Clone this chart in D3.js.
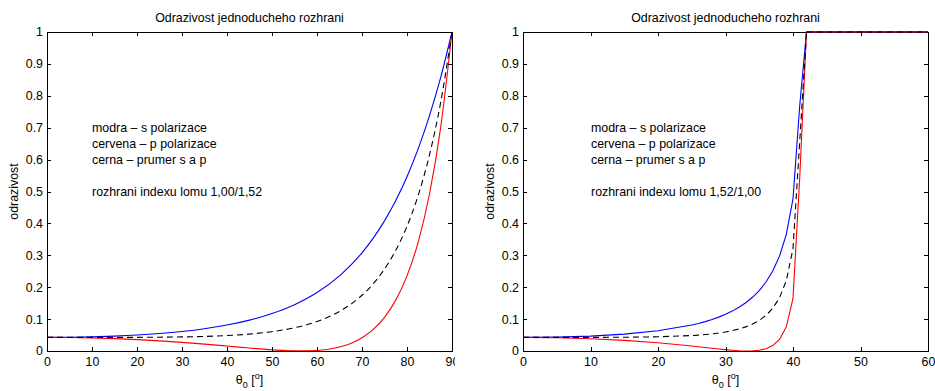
<!DOCTYPE html>
<html><head><meta charset="utf-8">
<script src="https://cdn.jsdelivr.net/npm/d3@7"></script>
<style>body{margin:0;background:#fff}svg text{font-family:"Liberation Sans",Arial,Helvetica,sans-serif}</style>
</head><body><svg id="c" width="935" height="391"></svg>
<script>
// Left panel: interface 1,00/1,52
const anglesA = [0,5,10,15,20,25,30,35,40,45,50,55,60,65,67.5,70,72.5,75,77.5,80,82.5,85,87.5,90];
const rsA  = [0.04258,0.043011,0.044322,0.046604,0.050008,0.05476,0.061208,0.069841,0.081353,0.096732,0.117395,0.145345,0.183437,0.23572,0.268886,0.307891,0.353799,0.40785,0.471485,0.546358,0.634377,0.737663,0.858662,1];
const rpA  = [0.04258,0.042207,0.040869,0.038721,0.0357,0.031811,0.027079,0.021591,0.01555,0.009357,0.00379,0.000296,0.001527,0.012321,0.023836,0.041535,0.067725,0.105578,0.15948,0.235534,0.34235,0.492164,0.702718,1];
const avgA = [0.04258,0.042609,0.042596,0.042663,0.042854,0.043286,0.044144,0.045716,0.048452,0.053045,0.060593,0.072821,0.092482,0.124021,0.146361,0.174713,0.210762,0.256714,0.315483,0.390946,0.488364,0.614914,0.78069,1];
// Right panel: interface 1,52/1,00
const anglesB = [0,5,10,15,20,25,26,27,28,29,30,31,32,33,34,35,36,37,38,39,40,41,42,60];
const rsB  = [0.04258,0.043581,0.046779,0.052841,0.063256,0.08127,0.086332,0.09208,0.098638,0.106167,0.114875,0.125025,0.136975,0.151209,0.168402,0.189541,0.216126,0.250594,0.29727,0.364974,0.476977,0.770515,1,1];
const rpB  = [0.04258,0.04159,0.038562,0.033337,0.025694,0.015589,0.013328,0.011027,0.008721,0.00646,0.00432,0.002414,0.00091,0.000068,0.000301,0.00228,0.007161,0.017066,0.036289,0.074941,0.164597,0.545501,1,1];
const avgB = [0.04258,0.042586,0.042671,0.043089,0.044475,0.04843,0.04983,0.051554,0.05368,0.056314,0.059598,0.06372,0.068943,0.075639,0.084352,0.095911,0.111644,0.13383,0.16678,0.219958,0.320787,0.658008,1,1];

const yTicks = [0,0.1,0.2,0.3,0.4,0.5,0.6,0.7,0.8,0.9,1];
const xTicksA = [0,10,20,30,40,50,60,70,80,90];
const xTicksB = [0,10,20,30,40,50,60];
const titleText = "Odrazivost jednoducheho rozhrani";
const yLabel = "odrazivost";
const noteLines = ["modra \u2013 s polarizace","cervena \u2013 p polarizace","cerna \u2013 prumer s a p"];
const noteA = "rozhrani indexu lomu 1,00/1,52";
const noteB = "rozhrani indexu lomu 1,52/1,00";

const svg = d3.select("#c");
const FS = 12.4;
const yTop = 32, yBot = 351;

svg.append("defs").append("clipPath").attr("id","clipL")
  .append("rect").attr("x",0).attr("y",0).attr("width",455).attr("height",391);

function panel(opts){
  const g = svg.append("g");
  if (opts.clip) g.attr("clip-path","url(#clipL)");
  const x = d3.scaleLinear().domain([0,opts.xmax]).range([opts.x0,opts.x1]);
  const y = d3.scaleLinear().domain([0,1]).range([yBot,yTop]);
  const fmtY = d => (d===0||d===1) ? String(d) : d.toFixed(1);

  const line = d3.line().x(d=>x(d[0])).y(d=>y(d[1])).curve(opts.curve);
  const series = [
    {v:opts.rs, c:"#0000ff", dash:null},
    {v:opts.rp, c:"#ff0000", dash:null},
    {v:opts.avg, c:"#000000", dash:"6,4"}
  ];
  series.forEach(s=>{
    g.append("path").datum(opts.ang.map((a,i)=>[a,s.v[i]]))
      .attr("d",line).attr("fill","none").attr("stroke",s.c)
      .attr("stroke-width",1.1).attr("stroke-dasharray",s.dash);
  });

  const ax = [];
  ax.push(g.append("g").attr("transform",`translate(0,${yBot})`)
    .call(d3.axisBottom(x).tickValues(opts.xticks).tickSizeInner(-4).tickSizeOuter(0).tickPadding(6.3).tickFormat(d3.format("d"))));
  ax.push(g.append("g").attr("transform",`translate(0,${yTop})`)
    .call(d3.axisTop(x).tickValues(opts.xticks).tickSizeInner(-4).tickSizeOuter(0).tickFormat("")));
  ax.push(g.append("g").attr("transform",`translate(${opts.x0},0)`)
    .call(d3.axisLeft(y).tickValues(yTicks).tickSizeInner(-4).tickSizeOuter(0).tickPadding(4).tickFormat(fmtY)));
  ax.push(g.append("g").attr("transform",`translate(${opts.x1},0)`)
    .call(d3.axisRight(y).tickValues(yTicks).tickSizeInner(-4).tickSizeOuter(0).tickFormat("")));
  ax.forEach(a=>{
    a.attr("font-family",null).attr("font-size",null);
    a.selectAll("path,line").attr("stroke","#000").attr("shape-rendering","crispEdges");
    a.selectAll("text").attr("font-size",FS).attr("fill","#000");
  });

  if (opts.redrawTop) {
    series.forEach(s=>{
      g.append("path").datum(opts.ang.map((a,i)=>[a,s.v[i]]).filter(d=>d[1]>=1))
        .attr("d",d3.line().x(d=>x(d[0])).y(d=>y(d[1])))
        .attr("fill","none").attr("stroke",s.c).attr("stroke-width",1.1).attr("stroke-dasharray",s.dash);
    });
  }

  const cx = (opts.x0+opts.x1)/2;
  g.append("text").attr("x",cx).attr("y",22).attr("text-anchor","middle").attr("font-size",FS).text(titleText);
  g.append("text").attr("transform",`translate(${opts.x0-29},${(yTop+yBot)/2}) rotate(-90)`)
    .attr("text-anchor","middle").attr("font-size",FS).text(yLabel);
  const xl = g.append("text").attr("x",cx).attr("y",384).attr("text-anchor","middle").attr("font-size",FS);
  xl.append("tspan").text("\u03b8");
  xl.append("tspan").attr("font-size",9).attr("dy",4).text("0");
  xl.append("tspan").attr("dy",-4).text(" [");
  xl.append("tspan").attr("font-size",9).attr("dy",-5).text("o");
  xl.append("tspan").attr("dy",5).text("]");

  const nx = opts.x0 + opts.noteDx;
  [132,148,164].forEach((yy,i)=>{
    g.append("text").attr("x",nx).attr("y",yy).attr("font-size",FS).text(noteLines[i]);
  });
  g.append("text").attr("x",nx).attr("y",196).attr("font-size",FS).text(opts.note);
}

panel({x0:47,x1:452,xmax:90,xticks:xTicksA,ang:anglesA,rs:rsA,rp:rpA,avg:avgA,curve:d3.curveMonotoneX,note:noteA,noteDx:45,clip:true});
panel({x0:523,x1:928,xmax:60,xticks:xTicksB,ang:anglesB,rs:rsB,rp:rpB,avg:avgB,curve:d3.curveLinear,note:noteB,noteDx:68,redrawTop:true});
</script>
</body></html>
